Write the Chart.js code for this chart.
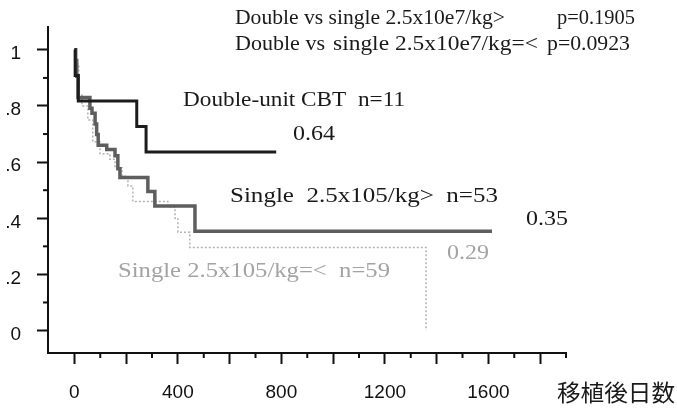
<!DOCTYPE html>
<html>
<head>
<meta charset="utf-8">
<script src="https://cdn.jsdelivr.net/npm/chart.js@4/dist/chart.umd.min.js"></script>
<style>
  html, body { margin: 0; padding: 0; background: #fff; }
  #wrap { width: 677px; height: 414px; }
</style>
</head>
<body>
<div id="wrap"><canvas id="canvas" width="677" height="414"></canvas></div>
<script>
// survival data (days after transplant, survival)
const doubleDays = [0, 3, 15, 241, 277, 780];
const doubleSurv = [1, 0.909, 0.818, 0.727, 0.636, 0.636];

const singleHiDays = [0, 5, 9, 14, 60, 68, 80, 86, 92, 125, 157, 168, 176, 284, 311, 466, 1614];
const singleHiSurv = [1, 0.962, 0.906, 0.83, 0.792, 0.774, 0.736, 0.698, 0.66, 0.645, 0.623, 0.576, 0.545, 0.495, 0.444, 0.354, 0.354];

const singleLoDays = [0, 6, 17, 29, 52, 71, 99, 137, 157, 184, 207, 226, 361, 389, 400, 446, 1359];
const singleLoSurv = [1, 0.95, 0.84, 0.80, 0.75, 0.673, 0.63, 0.61, 0.58, 0.55, 0.515, 0.46, 0.44, 0.40, 0.35, 0.296, 0];

const xTicks = [0, 200, 400, 600, 800, 1000, 1200, 1400, 1600, 1800];
const xLabelTicks = [0, 400, 800, 1200, 1600];
const yTicks = [0, 0.2, 0.4, 0.6, 0.8, 1];
const yLabels = ['0', '.2', '.4', '.6', '.8', '1'];

const xTitle = '移植後日数';

function el(sel) { return document.querySelector(sel) }

function pts(days, surv) {
  return days.map((d, i) => ({ x: d, y: surv[i] }))
}

// text labels drawn on top (x = left edge, y = middle, w = width to fit)
const notes = [
  { text: 'Double vs single 2.5x10e7/kg>', x: 235, y: 18, w: 270, color: '#1a1a1a' },
  { text: 'p=0.1905', x: 557, y: 18, w: 78, color: '#1a1a1a' },
  { text: 'Double vs', x: 235, y: 44, w: 90, color: '#1a1a1a' },
  { text: 'single 2.5x10e7/kg=<', x: 333, y: 44, w: 205, color: '#1a1a1a' },
  { text: 'p=0.0923', x: 547, y: 44, w: 83, color: '#1a1a1a' },
  { text: 'Double-unit CBT  n=11', x: 183, y: 100, w: 222, color: '#1a1a1a' },
  { text: '0.64', x: 293, y: 134, w: 42, color: '#1a1a1a' },
  { text: 'Single  2.5x105/kg>  n=53', x: 230, y: 196, w: 268, color: '#1a1a1a' },
  { text: '0.35', x: 526, y: 219, w: 42, color: '#1a1a1a' },
  { text: '0.29', x: 447, y: 253, w: 42, color: '#a3a3a3' },
  { text: 'Single 2.5x105/kg=<  n=59', x: 118, y: 271, w: 272, color: '#a3a3a3' },
];

const notesPlugin = {
  id: 'notes',
  afterDraw(chart) {
    const ctx = chart.ctx;
    const xs = chart.scales.x, ys = chart.scales.y;
    ctx.save();
    // minor ticks
    ctx.strokeStyle = '#111';
    ctx.lineWidth = 2;
    for (let v = 100; v <= 1900; v += 200) {
      const px = xs.getPixelForValue(v);
      ctx.beginPath(); ctx.moveTo(px, xs.top); ctx.lineTo(px, xs.top + 5); ctx.stroke();
    }
    for (let v = 0.1; v < 1.05; v += 0.2) {
      const py = ys.getPixelForValue(v);
      ctx.beginPath(); ctx.moveTo(ys.right, py); ctx.lineTo(ys.right - 5, py); ctx.stroke();
    }
    // notes
    ctx.textBaseline = 'middle';
    notes.forEach(n => {
      ctx.save();
      ctx.font = '21px "Liberation Serif", "Times New Roman", serif';
      const w = ctx.measureText(n.text).width;
      ctx.translate(n.x, n.y);
      ctx.scale(n.w / w, 1);
      ctx.fillStyle = n.color;
      ctx.fillText(n.text, 0, 0);
      ctx.restore();
    });
    // x title
    ctx.font = '23px "Noto Sans CJK JP", sans-serif';
    ctx.fillStyle = '#1a1a1a';
    const tw = ctx.measureText(xTitle).width;
    ctx.save();
    ctx.translate(557, 392);
    ctx.scale(118 / tw, 1);
    ctx.fillText(xTitle, 0, 0);
    ctx.restore();
    ctx.restore();
  }
};

new Chart(el('#canvas').getContext('2d'), {
  type: 'line',
  data: {
    datasets: [
      {
        label: 'Double-unit CBT',
        data: pts(doubleDays, doubleSurv),
        borderColor: '#1c1c1c',
        borderWidth: 3,
        stepped: true,
        pointRadius: 0
      },
      {
        label: 'Single >',
        data: pts(singleHiDays, singleHiSurv),
        borderColor: '#5e5e5e',
        borderWidth: 3.5,
        stepped: true,
        pointRadius: 0
      },
      {
        label: 'Single =<',
        data: pts(singleLoDays, singleLoSurv),
        borderColor: '#b2b2b2',
        borderWidth: 1.5,
        borderDash: [2, 2],
        stepped: true,
        pointRadius: 0
      }
    ]
  },
  options: {
    responsive: false,
    animation: false,
    layout: { padding: { left: 0, top: 10, right: 111, bottom: 0 } },
    plugins: { legend: { display: false }, tooltip: { enabled: false } },
    scales: {
      x: {
        type: 'linear',
        min: -102,
        max: 1900,
        afterBuildTicks(scale) { scale.ticks = xTicks.map(v => ({ value: v })) },
        afterFit(scale) { scale.height = 61 },
        border: { display: true, color: '#111', width: 2 },
        grid: { drawOnChartArea: false, drawTicks: true, tickLength: 11, tickWidth: 2, tickColor: '#111' },
        ticks: {
          autoSkip: false,
          maxRotation: 0,
          padding: 17,
          color: '#111',
          font: { family: '"Liberation Sans", Arial, sans-serif', size: 19 },
          callback: v => xLabelTicks.includes(v) ? String(v) : ''
        }
      },
      y: {
        type: 'linear',
        min: -0.08,
        max: 1.08,
        afterBuildTicks(scale) { scale.ticks = yTicks.map(v => ({ value: v })) },
        afterFit(scale) { scale.width = 48 },
        border: { display: true, color: '#111', width: 2 },
        grid: { drawOnChartArea: false, drawTicks: true, tickLength: 11, tickWidth: 2, tickColor: '#111' },
        ticks: {
          autoSkip: false,
          padding: 16,
          labelOffset: 4,
          color: '#111',
          font: { family: '"Liberation Sans", Arial, sans-serif', size: 19 },
          callback: (v, i) => yLabels[i]
        }
      }
    }
  },
  plugins: [notesPlugin]
});
</script>
</body>
</html>
